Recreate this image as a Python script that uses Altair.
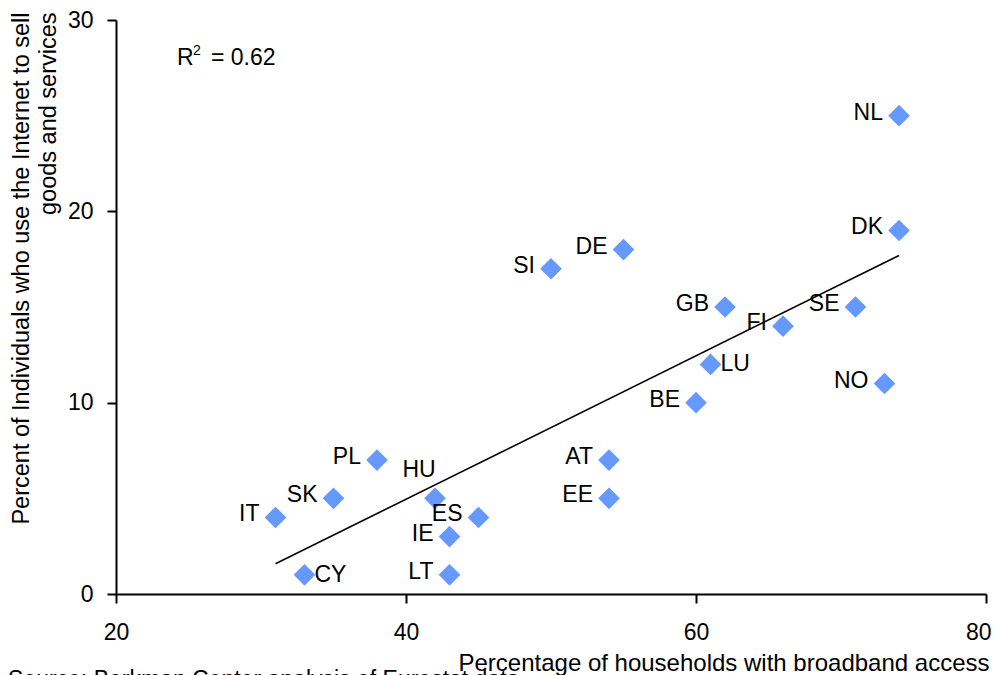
import altair as alt
import pandas as pd

# ---- data ----
countries = ["NL", "DK", "NO", "SE", "FI", "GB", "LU", "BE", "DE", "SI",
             "AT", "EE", "ES", "IE", "LT", "HU", "PL", "SK", "IT", "CY"]
broadband = [74, 74, 73, 71, 66, 62, 61, 60, 55, 50,
             54, 54, 45, 43, 43, 42, 38, 35, 31, 33]
selling = [25, 19, 11, 15, 14, 15, 12, 10, 18, 17,
           7, 5, 4, 3, 1, 5, 7, 5, 4, 1]

right_labelled = ["LU", "CY"]
above_labelled = ["HU"]

x_ticks = [20, 40, 60, 80]
y_ticks = [0, 10, 20, 30]

x_title = "Percentage of households with broadband access"
y_title = ["Percent of Individuals who use the Internet to sell", "goods and services"]
r2_parts = ["R", "2", "= 0.62"]
source_text = "Source: Berkman Center analysis of Eurostat data"

FONT = "Liberation Sans"
BLUE = "#6699FF"

df = pd.DataFrame({"country": countries, "broadband": broadband, "sell": selling})
df["side"] = ["right" if c in right_labelled else ("above" if c in above_labelled else "left")
              for c in countries]

x_enc = alt.X(
    "broadband:Q",
    scale=alt.Scale(domain=[20, 80], nice=False, zero=False),
    axis=alt.Axis(
        values=x_ticks, title=x_title, grid=False,
        domainColor="black", domainWidth=2, tickColor="black", tickWidth=2, tickSize=9,
        labelFont=FONT, labelFontSize=23, labelColor="black", labelPadding=18,
        labelFlush=False, labelOverlap=False,
        labelAlign={"condition": {"test": "datum.value >= 80", "value": "right"}, "value": "center"},
        labelOffset={"condition": {"test": "datum.value >= 80", "value": 5}, "value": 0},
        titleFont=FONT, titleFontSize=24, titleFontWeight="normal", titleColor="black",
        titleAlign="right", titleAnchor="end", titleBaseline="alphabetic",
        titleX=873, titleY=76,
    ),
)
y_enc = alt.Y(
    "sell:Q",
    scale=alt.Scale(domain=[0, 30], nice=False, zero=True),
    axis=alt.Axis(
        values=y_ticks, title=y_title, grid=False,
        domainColor="black", domainWidth=2, tickColor="black", tickWidth=2, tickSize=9,
        labelFont=FONT, labelFontSize=23, labelColor="black", labelPadding=14,
        labelFlush=False, labelOverlap=False,
        titleFont=FONT, titleFontSize=23.5, titleFontWeight="normal", titleColor="black",
        titleAngle=270, titleAlign="right", titleBaseline="alphabetic",
        titleX=-88, titleY=-8, titleLineHeight=27,
    ),
)

base = alt.Chart(df)

trend = base.transform_regression("broadband", "sell").mark_line(
    color="black", strokeWidth=1.6
).encode(x=x_enc, y=y_enc)

points = base.mark_point(
    shape="diamond", filled=True, size=470, color=BLUE, opacity=1
).encode(x=x_enc, y=y_enc)

labels_left = base.transform_filter(alt.datum.side == "left").mark_text(
    align="right", baseline="middle", dx=-16, dy=-3, font=FONT, fontSize=23, color="black"
).encode(x=x_enc, y=y_enc, text="country:N")

labels_right = base.transform_filter(alt.datum.side == "right").mark_text(
    align="left", baseline="middle", dx=10, dy=0, font=FONT, fontSize=23, color="black"
).encode(x=x_enc, y=y_enc, text="country:N")

labels_above = base.transform_filter(alt.datum.side == "above").mark_text(
    align="center", baseline="middle", dx=-16, dy=-28, font=FONT, fontSize=23, color="black"
).encode(x=x_enc, y=y_enc, text="country:N")

r2_r = alt.Chart(pd.DataFrame({"t": [r2_parts[0]]})).mark_text(
    align="left", baseline="alphabetic", font=FONT, fontSize=23, color="black"
).encode(x=alt.value(61), y=alt.value(45), text="t:N")

r2_sup = alt.Chart(pd.DataFrame({"t": [r2_parts[1]]})).mark_text(
    align="left", baseline="alphabetic", font=FONT, fontSize=14, color="black"
).encode(x=alt.value(77), y=alt.value(35), text="t:N")

r2_val = alt.Chart(pd.DataFrame({"t": [r2_parts[2]]})).mark_text(
    align="left", baseline="alphabetic", font=FONT, fontSize=23, color="black"
).encode(x=alt.value(95), y=alt.value(45), text="t:N")

source = alt.Chart(pd.DataFrame({"t": [source_text]})).mark_text(
    align="left", baseline="alphabetic", font=FONT, fontSize=23, color="black"
).encode(x=alt.value(-108), y=alt.value(667), text="t:N")

chart = alt.layer(
    trend, points, labels_left, labels_right, labels_above, r2_r, r2_sup, r2_val, source
).properties(
    width=870, height=574,
    autosize=alt.AutoSizeParams(type="none"),
    padding={"left": 108, "top": 12, "right": 5, "bottom": 81},
    background="white",
).configure_view(stroke=None)

chart.save("out.html", embed_options={"renderer": "svg", "actions": False})
